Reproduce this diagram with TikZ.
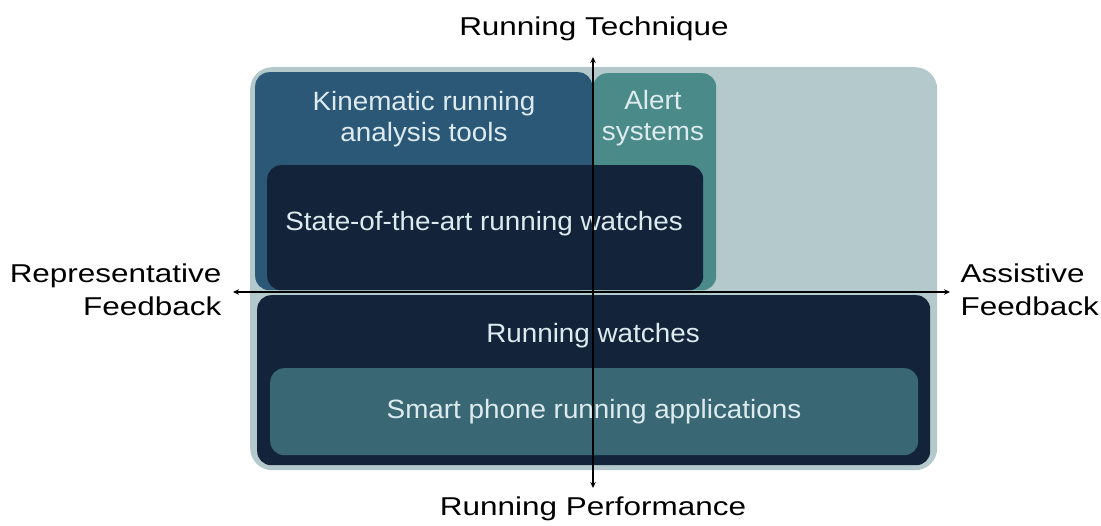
\documentclass[tikz,border=0pt]{standalone}
\usepackage{fontspec}
\setmainfont{Liberation Sans}
\newfontfamily\axisfont{Liberation Sans}[FakeStretch=1.22]
\newfontfamily\boxfont{Liberation Sans}[FakeStretch=1.05]
\usetikzlibrary{arrows.meta,positioning,calc}
\definecolor{outerbg}{HTML}{B4C9CB}
\definecolor{kinblue}{HTML}{2B5877}
\definecolor{alertteal}{HTML}{4A8A88}
\definecolor{darknavy}{HTML}{13243A}
\definecolor{phoneteal}{HTML}{3A6774}
\definecolor{boxtext}{HTML}{DDEBEE}
\tikzset{
  axislabel/.style={font=\axisfont\fontsize{25.8}{33}\selectfont,text=black},
  boxlabel/.style={font=\boxfont\fontsize{26.5}{31}\selectfont,text=boxtext,align=center},
  region/.style={rounded corners=14pt,draw=none,inner sep=0pt,anchor=north west},
  axis/.style={line width=1.2pt,draw=black,{Stealth[length=6pt,width=5.5pt]}-{Stealth[length=6pt,width=5.5pt]}}
}
\begin{document}
\begin{tikzpicture}[x=1pt,y=-1pt]
\path[use as bounding box] (0,0) rectangle (1101,526);
% regions
\node[region,rounded corners=22pt,fill=outerbg,minimum width=687,minimum height=403] (outer) at (250,67) {};
\node[region,fill=kinblue,minimum width=337,minimum height=218] (kin) at (255,72) {};
\node[region,fill=alertteal,minimum width=123,minimum height=217] (alert) at (593,73) {};
\node[region,fill=darknavy,minimum width=436,minimum height=125] (state) at (267,165) {};
\node[region,fill=darknavy,minimum width=673,minimum height=170] (watches) at (257,295) {};
\node[region,fill=phoneteal,minimum width=648,minimum height=87] (phone) at (270,368) {};
% region texts
\node[boxlabel] (kintxt) at (424,119) {Kinematic running\\analysis tools};
\node[boxlabel] (alerttxt) at (653,118) {Alert\\systems};
\node[boxlabel] (statetxt) at (484,224) {State-of-the-art running watches};
\node[boxlabel] (watchtxt) at (593,336) {Running watches};
\node[boxlabel] (phonetxt) at (594,412) {Smart phone running applications};
% axes
\coordinate (axl) at (233,292); \coordinate (axr) at (950,292);
\coordinate (axt) at (593,57); \coordinate (axb) at (593,488);
\draw[axis] (axl)--(axr);
\draw[axis] (axb)--(axt);
\node[axislabel] (tech) at (594,29) {Running Technique};
\node[axislabel] (perf) at (593,509) {Running Performance};
\node[axislabel,align=right,anchor=east] (repr) at (225,290) {Representative\\Feedback};
\node[axislabel,align=left,anchor=west] (assi) at (957,290) {Assistive\\Feedback};
\end{tikzpicture}
\end{document}
